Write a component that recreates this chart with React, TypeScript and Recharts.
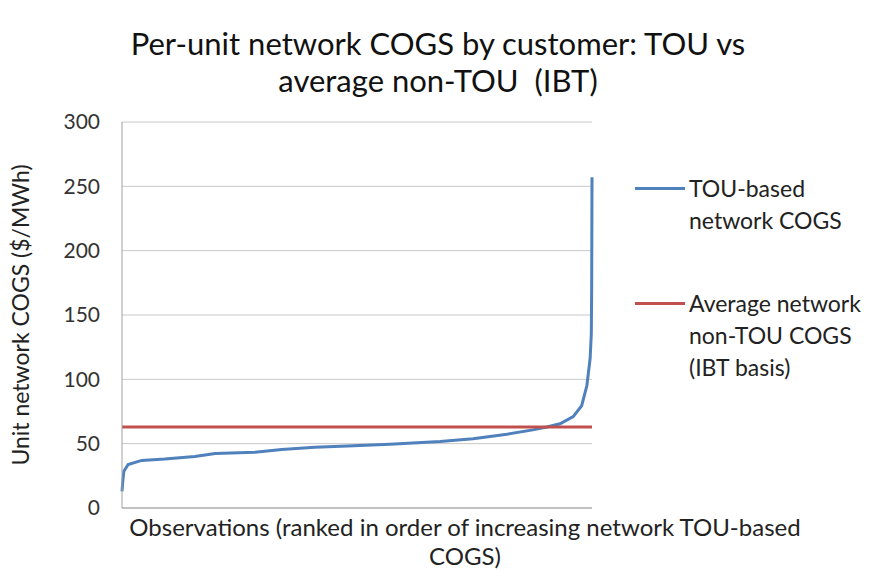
import { CartesianGrid, Line, LineChart, XAxis, YAxis } from "recharts";

// observation rank, as percent of customers
const ranks = [
  0, 0.2, 0.4, 1.3, 4.2, 9.1, 15.5, 19.8, 28.3, 34, 41, 48, 57, 67.7, 74.7,
  81.9, 87.4, 90.4, 93.2, 96, 97.8, 98.9, 99.6, 99.85, 99.93, 100,
];
// TOU-based network COGS ($/MWh)
const touCogs = [
  13, 22, 28.5, 33.8, 37, 38, 40, 42.4, 43.4, 45.5, 47.3, 48.2, 49.5, 51.6,
  53.9, 57.3, 60.7, 63, 65.5, 71, 79.5, 95, 116, 135, 170, 257,
];
// average network non-TOU COGS, IBT basis
const avgCogs = 63;
const yTicks = [0, 50, 100, 150, 200, 250, 300];

const data = ranks.map((r, i) => ({ rank: r, tou: touCogs[i], avg: avgCogs }));

const FONT = "Lato, 'Open Sans', sans-serif";
const BLUE = "#4f81bd";
const RED = "#c0504d";

const legendItems = [
  { color: BLUE, top: 172, lines: ["TOU-based", "network COGS"] },
  { color: RED, top: 287, lines: ["Average network", "non-TOU COGS", "(IBT basis)"] },
];

const ChartLegend = () => (
  <>
    {legendItems.map((it, i) => (
      <div
        key={i}
        style={{
          position: "absolute",
          left: 635,
          top: it.top,
          display: "flex",
          alignItems: "flex-start",
          fontFamily: FONT,
          fontSize: 23,
          lineHeight: "32px",
          color: "#222",
          whiteSpace: "nowrap",
        }}
      >
        <div style={{ width: 50, height: 3, background: it.color, marginTop: 15, marginRight: 4 }} />
        <div>
          {it.lines.map((l) => (
            <div key={l}>{l}</div>
          ))}
        </div>
      </div>
    ))}
  </>
);

const XLabel = ({ viewBox }: any) => {
  const cx = 465;
  const y = viewBox ? viewBox.y : 508;
  return (
    <text textAnchor="middle" fontFamily={FONT} fontSize={24} fill="#222">
      <tspan x={cx} y={y + 28}>
        Observations (ranked in order of increasing network TOU-based
      </tspan>
      <tspan x={cx} y={y + 57}>
        COGS)
      </tspan>
    </text>
  );
};

export default function App() {
  return (
    <div style={{ position: "absolute", left: 0, top: 0, width: 871, height: 571, background: "#fff" }}>
      <div
        style={{
          position: "absolute",
          left: 0,
          top: 25,
          width: 876,
          textAlign: "center",
          fontFamily: FONT,
          fontSize: 31,
          lineHeight: "37px",
          color: "#111",
        }}
      >
        Per-unit network COGS by customer: TOU vs
        <br />
        average non-TOU&nbsp; (IBT)
      </div>
      <LineChart
        width={871}
        height={571}
        data={data}
        margin={{ top: 122, right: 279, bottom: 33, left: 0 }}
      >
        <CartesianGrid vertical={false} stroke="#c8c8c8" />
        <XAxis
          dataKey="rank"
          type="number"
          domain={[0, 100]}
          tick={false}
          tickLine={false}
          height={30}
          stroke="#a0a0a0"
          label={<XLabel />}
        />
        <YAxis
          domain={[0, 300]}
          ticks={yTicks}
          width={122}
          tickLine={false}
          stroke="#a0a0a0"
          tick={{ fontFamily: FONT, fontSize: 21, fill: "#333", dx: -14 }}
          label={{
            value: "Unit network COGS ($/MWh)",
            angle: -90,
            position: "insideLeft",
            dx: 16,
            dy: 0,
            style: { textAnchor: "middle", fontFamily: FONT, fontSize: 23, fill: "#222" },
          }}
        />
        <Line
          type="linear"
          dataKey="tou"
          stroke={BLUE}
          strokeWidth={3}
          dot={false}
          isAnimationActive={false}
        />
        <Line
          type="linear"
          dataKey="avg"
          stroke={RED}
          strokeWidth={3}
          dot={false}
          isAnimationActive={false}
        />
      </LineChart>
      <ChartLegend />
    </div>
  );
}
